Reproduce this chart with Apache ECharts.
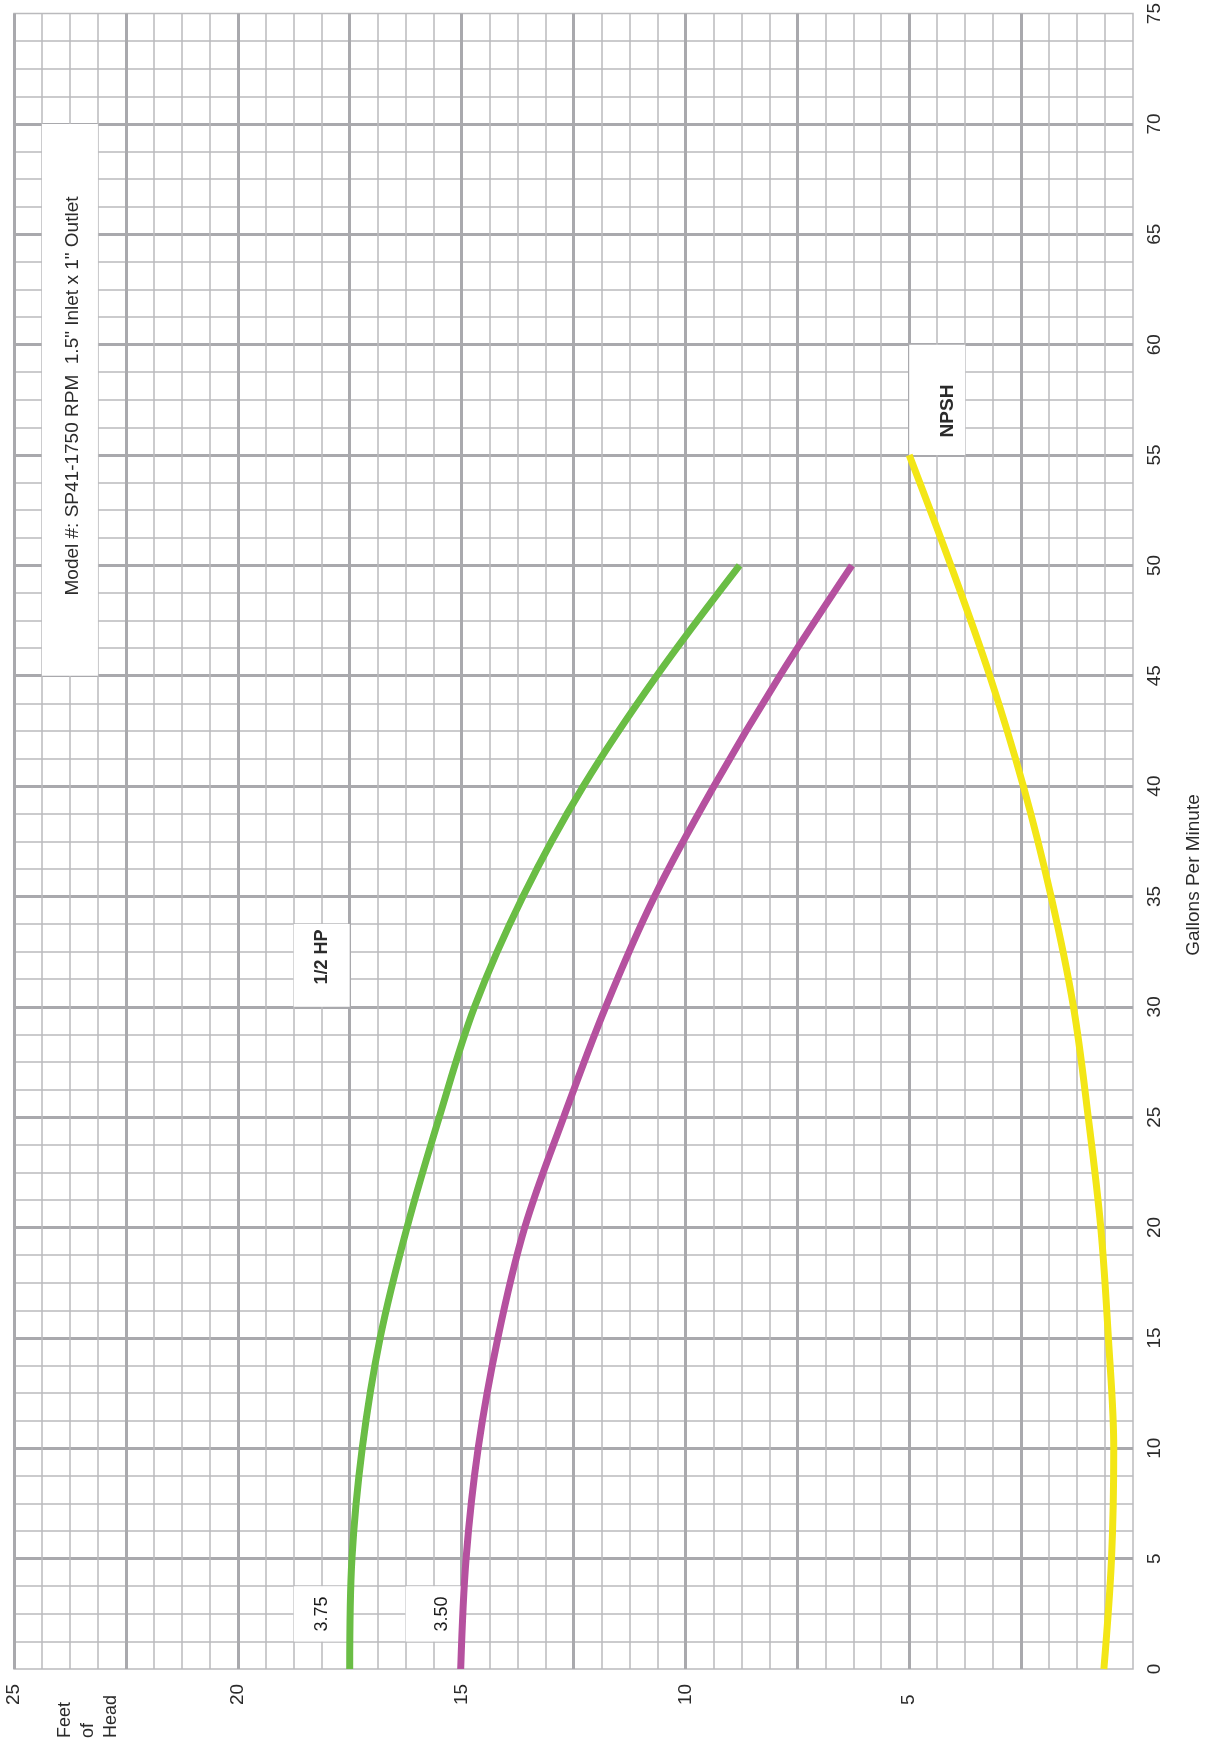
<!DOCTYPE html>
<html>
<head>
<meta charset="utf-8">
<script src="https://cdn.jsdelivr.net/npm/echarts@6/dist/echarts.min.js"></script>
<style>
html, body { margin: 0; padding: 0; background: #fff; }
#main { width: 1209px; height: 1744px; }
</style>
</head>
<body>
<div id="main"></div>
<script>
// pump curve SP41-1750, drawn sideways like the printed sheet
var gpm = [0, 5, 10, 15, 20, 25, 30, 35, 40, 45, 50];
var head375 = [17.5, 17.45, 17.22, 16.82, 16.22, 15.5, 14.71, 13.63, 12.28, 10.64, 8.79];
var head350 = [15.02, 14.9, 14.63, 14.19, 13.59, 12.72, 11.78, 10.69, 9.36, 7.89, 6.28];
var npshGpm = [0, 5, 10, 15, 20, 25, 30, 35, 40, 45, 50, 55];
var npsh = [0.65, 0.48, 0.43, 0.55, 0.72, 1.0, 1.33, 1.83, 2.45, 3.2, 4.07, 5.0];
var feetLabels = [5, 10, 15, 20, 25];

var FONT = '"Liberation Sans", Arial, sans-serif';
var majorColor = '#a9a9ad';
var minorColor = '#bababd';

function pairs(xs, ys) {
    var out = [];
    for (var i = 0; i < xs.length; i++) out.push([ys[i], xs[i]]);
    return out;
}

function curve(name, data, color) {
    return {
        name: name,
        type: 'line',
        data: data,
        smooth: 0.35,
        showSymbol: false,
        z: 3,
        lineStyle: { color: color, width: 7, cap: 'butt' }
    };
}

function rotText(x, y, text, size, bold, color) {
    return {
        type: 'text',
        x: x, y: y,
        rotation: Math.PI / 2,
        z: 10,
        style: {
            text: text,
            fill: color || '#2b2b2b',
            font: (bold ? 'bold ' : '') + size + 'px ' + FONT,
            align: 'center',
            verticalAlign: 'middle'
        }
    };
}

var chart = echarts.init(document.getElementById('main'));
chart.setOption({
    animation: false,
    backgroundColor: '#fff',
    grid: {
        left: 14, right: 76, top: 13, bottom: 75,
        show: true, borderColor: minorColor, borderWidth: 1.5
    },
    xAxis: {
        type: 'value',
        min: 0, max: 25, interval: 2.5,
        inverse: true,
        axisLine: { show: false },
        axisTick: { show: false },
        axisLabel: {
            rotate: 90,
            align: 'left',
            verticalAlign: 'middle',
            margin: 36,
            fontSize: 19,
            fontFamily: FONT,
            color: '#2b2b2b',
            formatter: function (v) {
                return feetLabels.indexOf(v) >= 0 ? String(v) : '';
            }
        },
        splitLine: { show: true, showMinLine: false, lineStyle: { color: majorColor, width: 3 } },
        minorTick: { show: false, splitNumber: 4 },
        minorSplitLine: { show: true, lineStyle: { color: minorColor, width: 1.5 } }
    },
    yAxis: {
        type: 'value',
        position: 'right',
        min: 0, max: 75, interval: 5,
        axisLine: { show: false },
        axisTick: { show: false },
        axisLabel: {
            rotate: 90,
            margin: 12,
            fontSize: 19,
            fontFamily: FONT,
            color: '#2b2b2b'
        },
        splitLine: { show: true, showMinLine: false, showMaxLine: false, lineStyle: { color: majorColor, width: 3 } },
        minorTick: { show: false, splitNumber: 4 },
        minorSplitLine: { show: true, lineStyle: { color: minorColor, width: 1.5 } }
    },
    series: [
        {
            // white blanks under the printed labels
            type: 'line',
            data: [],
            z: 1,
            silent: true,
            markArea: {
                silent: true,
                itemStyle: { color: '#fff' },
                data: [
                    [{ coord: [24.375, 70] }, { coord: [23.125, 45] }],
                    [{ coord: [18.75, 3.75] }, { coord: [17.5, 1.25] }],
                    [{ coord: [16.25, 3.75] }, { coord: [15, 1.25] }],
                    [{ coord: [18.75, 33.75] }, { coord: [17.5, 30] }],
                    [{ coord: [5, 60] }, { coord: [3.75, 55] }]
                ]
            }
        },
        curve('3.75', pairs(gpm, head375), '#6abd45'),
        curve('3.50', pairs(gpm, head350), '#b5519f'),
        curve('NPSH', pairs(npshGpm, npsh), '#f3e616')
    ],
    graphic: [
        rotText(73, 396, 'Model #: SP41-1750 RPM  1.5" Inlet x 1" Outlet', 19, false),
        rotText(1194, 875, 'Gallons Per Minute', 19, false),
        rotText(322, 1614, '3.75', 18, false, '#1c1c1c'),
        rotText(442, 1614, '3.50', 18, false, '#1c1c1c'),
        rotText(322, 957, '1/2 HP', 18, true),
        rotText(948, 411, 'NPSH', 19, true),
        {
            type: 'text',
            x: 54, y: 1738,
            rotation: Math.PI / 2,
            z: 10,
            style: {
                text: 'Feet\nof\nHead',
                fill: '#2b2b2b',
                font: '18px ' + FONT,
                lineHeight: 23,
                align: 'left',
                verticalAlign: 'top'
            }
        }
    ]
});
</script>
</body>
</html>
